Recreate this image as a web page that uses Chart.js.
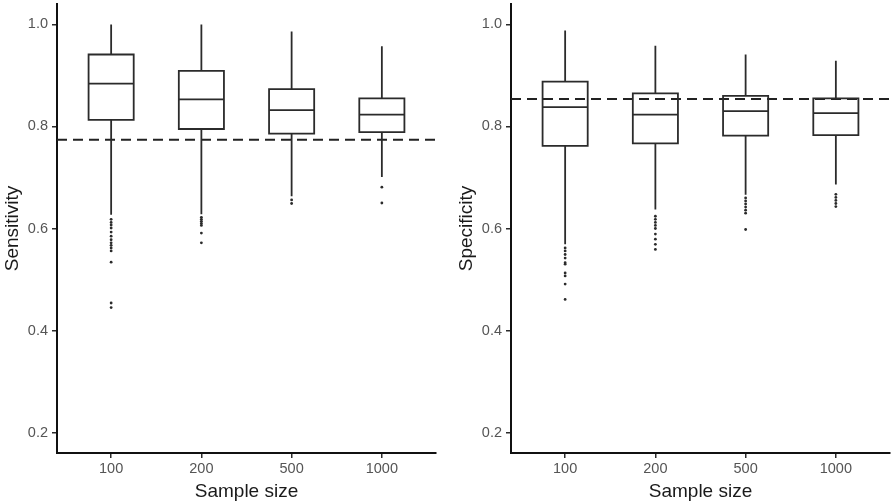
<!DOCTYPE html>
<html>
<head>
<meta charset="utf-8">
<script src="https://cdn.jsdelivr.net/npm/chart.js@4.4.1/dist/chart.umd.min.js"></script>
<style>
  body { margin: 0; background: #fff; }
  .panel { position: absolute; top: 0; width: 440px; height: 504px; }
</style>
</head>
<body>
<div class="panel" style="left:0px"><canvas id="chart-sens"></canvas></div>
<div class="panel" style="left:454px"><canvas id="chart-spec"></canvas></div>
<script>
const sampleSizes = ["100", "200", "500", "1000"];
const yTicks = [0.2, 0.4, 0.6, 0.8, 1.0];

// Sensitivity boxes
const sensLower = [0.627, 0.628, 0.663, 0.701];
const sensQ1 = [0.813, 0.795, 0.786, 0.789];
const sensMedian = [0.884, 0.853, 0.832, 0.823];
const sensQ3 = [0.941, 0.909, 0.873, 0.855];
const sensUpper = [1.0, 1.0, 0.986, 0.957];
const sensOutliers = [
    [0.618, 0.612, 0.607, 0.601, 0.593, 0.585, 0.578, 0.572, 0.567, 0.562, 0.556, 0.534, 0.454, 0.445],
    [0.622, 0.618, 0.614, 0.610, 0.606, 0.591, 0.572],
    [0.656, 0.649],
    [0.681, 0.650],
];
const sensRef = 0.774;

// Specificity boxes
const specLower = [0.569, 0.637, 0.666, 0.686];
const specQ1 = [0.762, 0.767, 0.782, 0.783];
const specMedian = [0.838, 0.823, 0.830, 0.826];
const specQ3 = [0.888, 0.865, 0.860, 0.855];
const specUpper = [0.988, 0.958, 0.941, 0.929];
const specOutliers = [
    [0.562, 0.556, 0.549, 0.542, 0.533, 0.530, 0.513, 0.507, 0.491, 0.461],
    [0.624, 0.618, 0.612, 0.606, 0.600, 0.589, 0.579, 0.569, 0.559],
    [0.660, 0.654, 0.648, 0.642, 0.636, 0.630, 0.598],
    [0.667, 0.661, 0.655, 0.649, 0.643],
];
const specRef = 0.854;

const halfWidth = 0.25;
const ink = "#2b2b2b";
const fontFamily = "'Liberation Sans', Arial, sans-serif";

function lineSet(data, extra) {
    return Object.assign({
        type: "scatter",
        data: data,
        showLine: true,
        spanGaps: false,
        borderColor: ink,
        borderWidth: 1.8,
        borderJoinStyle: "miter",
        borderCapStyle: "square",
        pointRadius: 0,
        fill: false,
    }, extra || {});
}

function buildDatasets(lower, q1, median, q3, upper, outliers, ref) {
    const whiskers = [];
    const boxes = [];
    const medians = [];
    const points = [];
    sampleSizes.forEach((s, i) => {
        whiskers.push({ x: i, y: upper[i] }, { x: i, y: q3[i] }, { x: i, y: null });
        whiskers.push({ x: i, y: q1[i] }, { x: i, y: lower[i] }, { x: i, y: null });
        boxes.push(
            { x: i - halfWidth, y: q1[i] }, { x: i + halfWidth, y: q1[i] },
            { x: i + halfWidth, y: q3[i] }, { x: i - halfWidth, y: q3[i] },
            { x: i - halfWidth, y: q1[i] }, { x: i, y: null }
        );
        medians.push({ x: i - halfWidth, y: median[i] }, { x: i + halfWidth, y: median[i] }, { x: i, y: null });
        outliers[i].forEach((v) => points.push({ x: i, y: v }));
    });
    return [
        lineSet(whiskers, { borderCapStyle: "butt" }),
        lineSet(boxes),
        lineSet(medians, { borderCapStyle: "butt" }),
        {
            type: "scatter",
            data: points,
            pointRadius: 1.4,
            pointBackgroundColor: ink,
            pointBorderWidth: 0,
        },
        lineSet([{ x: -0.6, y: ref }, { x: 3.6, y: ref }], {
            borderDash: [10, 6],
            borderWidth: 2,
            borderCapStyle: "butt",
            borderColor: "#222",
        }),
    ];
}

function makeChart(id, title, datasets) {
    const ctx = document.getElementById(id).getContext("2d");
    return new Chart(ctx, {
        type: "scatter",
        data: { datasets: datasets },
        options: {
            responsive: true,
            maintainAspectRatio: false,
            animation: false,
            events: [],
            layout: { padding: { top: 1.5, right: 3, left: 0, bottom: 0 } },
            plugins: { legend: { display: false }, tooltip: { enabled: false } },
            scales: {
                x: {
                    type: "linear",
                    min: -0.6,
                    max: 3.6,
                    afterBuildTicks: (scale) => {
                        scale.ticks = sampleSizes.map((s, i) => ({ value: i }));
                    },
                    afterFit: (scale) => {
                        scale.height = 51;
                        scale.paddingLeft = 0;
                        scale.paddingRight = 0;
                    },
                    ticks: {
                        callback: (v) => sampleSizes[v],
                        color: "#555555",
                        font: { family: fontFamily, size: 14.5 },
                        padding: 2,
                        maxRotation: 0,
                    },
                    grid: { drawOnChartArea: false, drawTicks: true, tickLength: 5, tickColor: ink, lineWidth: 1.5 },
                    border: { display: true, color: "#111", width: 2 },
                    title: {
                        display: true,
                        text: "Sample size",
                        color: "#1a1a1a",
                        font: { family: fontFamily, size: 19 },
                        padding: { top: 0, bottom: 1 },
                    },
                },
                y: {
                    min: 0.16,
                    max: 1.04,
                    afterBuildTicks: (scale) => {
                        scale.ticks = yTicks.map((v) => ({ value: v }));
                    },
                    afterFit: (scale) => {
                        scale.width = 57;
                        scale.paddingTop = 0;
                        scale.paddingBottom = 0;
                    },
                    ticks: {
                        callback: (v) => v.toFixed(1),
                        color: "#555555",
                        font: { family: fontFamily, size: 14.5 },
                        padding: 4,
                    },
                    grid: { drawOnChartArea: false, drawTicks: true, tickLength: 5, tickColor: ink, lineWidth: 1.5 },
                    border: { display: true, color: "#111", width: 2 },
                    title: {
                        display: true,
                        text: title,
                        color: "#1a1a1a",
                        font: { family: fontFamily, size: 19 },
                        padding: { top: 1, bottom: 0 },
                    },
                },
            },
        },
    });
}

makeChart("chart-sens", "Sensitivity",
    buildDatasets(sensLower, sensQ1, sensMedian, sensQ3, sensUpper, sensOutliers, sensRef));
makeChart("chart-spec", "Specificity",
    buildDatasets(specLower, specQ1, specMedian, specQ3, specUpper, specOutliers, specRef));
</script>
</body>
</html>
